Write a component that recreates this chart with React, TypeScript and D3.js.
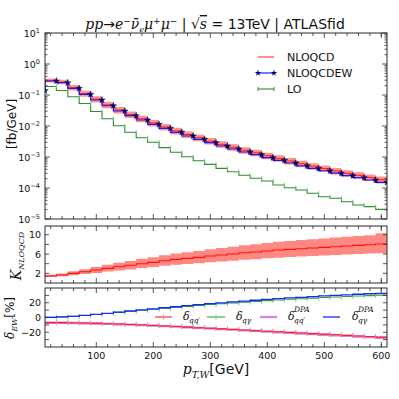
import React from 'react';
import * as d3 from 'd3';

// bin edges in pT,W [GeV]; values are drawn as steps ending at each edge
const binEdges = [10, 30, 50, 70, 90, 110, 130, 150, 170, 190, 210, 230, 250, 270, 290, 310,
  330, 350, 370, 390, 410, 430, 450, 470, 490, 510, 530, 550, 570, 590, 610];

// main panel, dsigma/dpT [fb/GeV]
const nloQcd = [0.14, 0.29, 0.26, 0.172, 0.111, 0.0735, 0.0482, 0.0329, 0.0234, 0.0171, 0.0125,
  0.0093, 0.00697, 0.00532, 0.00418, 0.00326, 0.00256, 0.00206, 0.00166, 0.00137, 0.0011,
  0.000905, 0.000745, 0.000608, 0.000505, 0.000424, 0.000355, 0.000297, 0.000256, 0.000217, 0.000184];
const nloQcdEw = [0.138, 0.283, 0.249, 0.164, 0.105, 0.069, 0.045, 0.0305, 0.0215, 0.0156, 0.01135,
  0.00843, 0.00627, 0.00476, 0.00372, 0.00289, 0.00226, 0.00181, 0.00145, 0.00119, 0.00095,
  0.00078, 0.00064, 0.00052, 0.00043, 0.00036, 0.0003, 0.00025, 0.000215, 0.000181, 0.000153];
const lo = [0.17, 0.187, 0.14, 0.088, 0.053, 0.0294, 0.0172, 0.0102, 0.00627, 0.0042, 0.00298,
  0.002, 0.00142, 0.00102, 0.00076, 0.00058, 0.00043, 0.000336, 0.000257, 0.000206, 0.000168,
  0.000125, 0.000102, 0.000086, 0.0000674, 0.0000525, 0.0000466, 0.0000362, 0.0000283, 0.000025, 0.0000205];

// K factor panel
const kNlo = [1.44, 1.44, 1.65, 2.0, 2.33, 2.68, 3.03, 3.37, 3.66, 4.0, 4.28, 4.61, 4.9, 5.1, 5.31,
  5.58, 5.79, 6.0, 6.27, 6.41, 6.62, 6.82, 6.97, 7.1, 7.24, 7.38, 7.52, 7.65, 7.79, 7.93, 8.07];
const kNloHigh = [1.7, 1.7, 1.98, 2.44, 2.87, 3.32, 3.79, 4.21, 4.58, 5.0, 5.35, 5.76, 6.13, 6.38, 6.64,
  6.98, 7.24, 7.5, 7.84, 8.01, 8.28, 8.53, 8.71, 8.88, 9.05, 9.23, 9.4, 9.56, 9.74, 9.91, 10.28];
const kNloLow = [1.25, 1.25, 1.4, 1.62, 1.84, 2.09, 2.36, 2.6, 2.82, 3.08, 3.3, 3.55, 3.77, 3.93, 4.09,
  4.3, 4.46, 4.62, 4.83, 4.94, 5.1, 5.25, 5.37, 5.47, 5.57, 5.68, 5.79, 5.89, 6.0, 6.11, 6.14];

// EW corrections [%]
const deltaQQ = [-6.8, -6.9, -7.0, -7.2, -7.5, -7.9, -8.4, -8.9, -9.5, -10.1, -10.8, -11.5, -12.2, -13.0,
  -13.8, -14.6, -15.4, -16.2, -17.0, -17.8, -18.6, -19.4, -20.2, -21.0, -21.8, -22.6, -23.4, -24.2,
  -25.0, -25.8, -26.6];
const deltaQQDpa = [-7.0, -7.1, -7.2, -7.4, -7.7, -8.1, -8.6, -9.1, -9.7, -10.3, -11.0, -11.7, -12.4,
  -13.2, -14.0, -14.8, -15.7, -16.5, -17.4, -18.2, -19.1, -19.9, -20.8, -21.6, -22.4, -23.3, -24.1,
  -24.9, -25.8, -26.6, -27.4];
const deltaQA = [0, 0.3, 0.8, 1.6, 2.7, 4.0, 5.4, 6.9, 8.4, 9.8, 11.2, 12.5, 13.8, 15.1, 16.4, 17.6,
  18.7, 19.8, 20.9, 21.9, 22.9, 23.8, 24.7, 25.5, 26.3, 27.1, 27.8, 28.5, 29.1, 29.7, 30.3];
const deltaQADpa = [0, 0.3, 0.8, 1.6, 2.8, 4.2, 5.6, 7.2, 8.8, 10.3, 11.8, 13.2, 14.6, 16.0, 17.4,
  18.7, 19.9, 21.1, 22.3, 23.4, 24.5, 25.5, 26.5, 27.4, 28.3, 29.2, 30.0, 30.8, 31.5, 32.2, 32.8];

const xTicksMinor = [20, 40, 60, 80, 120, 140, 160, 180, 220, 240, 260, 280, 320, 340, 360, 380,
  420, 440, 460, 480, 520, 540, 560, 580, 600];
const xTicksMajor = [100, 200, 300, 400, 500, 600];
const mainDecades = [-5, -4, -3, -2, -1, 0, 1];
const kTicks = [2, 4, 6, 8, 10];
const kTickLabels = [2, 6, 10];
const ewTicks = [-30, -20, -10, 0, 10, 20, 30];
const ewTickLabels = [-20, 0, 20];

const L = 45;
const R = 387;
const SANS = 'DejaVu Sans';
const SERIF = 'DejaVu Serif';
const FRAME = '#2b2b2b';

const x = d3.scaleLinear().domain([10, 610]).range([L, R]);
const yMain = d3.scaleLog().domain([1e-5, 10]).range([219, 33]);
const yK = d3.scaleLinear().domain([0, 11.8]).range([283, 226]);
const yEw = d3.scaleLinear().domain([-40, 40]).range([347, 288]);

type YS = (v: number) => number;

const stepLine = (ys: YS, vals: number[]) =>
  d3.line<number>().x((d, i) => x(binEdges[i])).y(d => ys(d)).curve(d3.curveStepBefore)(vals) || '';

const stepBand = (ys: YS, lowVals: number[], highVals: number[]) =>
  d3.area<number>()
    .x((d, i) => x(binEdges[i]))
    .y0((d, i) => ys(lowVals[i]))
    .y1((d, i) => ys(highVals[i]))
    .curve(d3.curveStepBefore)(lowVals) || '';

const minus = (v: number) => (v < 0 ? '\u2212' + Math.abs(v) : String(v));

function XTicks({ top, bottom }: { top: number; bottom: number }) {
  return (
    <g stroke={FRAME} strokeWidth={0.8}>
      {xTicksMinor.map(t => (
        <g key={'m' + t}>
          <line x1={x(t)} x2={x(t)} y1={bottom} y2={bottom - 3} />
          <line x1={x(t)} x2={x(t)} y1={top} y2={top + 3} />
        </g>
      ))}
      {xTicksMajor.map(t => (
        <g key={'M' + t}>
          <line x1={x(t)} x2={x(t)} y1={bottom} y2={bottom - 5} />
          <line x1={x(t)} x2={x(t)} y1={top} y2={top + 5} />
        </g>
      ))}
    </g>
  );
}

function YTicks({ ys, ticks, len }: { ys: YS; ticks: number[]; len: number }) {
  return (
    <g stroke={FRAME} strokeWidth={0.8}>
      {ticks.map((t, i) => (
        <g key={i}>
          <line x1={L} x2={L + len} y1={ys(t)} y2={ys(t)} />
          <line x1={R} x2={R - len} y1={ys(t)} y2={ys(t)} />
        </g>
      ))}
    </g>
  );
}

function Frame({ top, bottom }: { top: number; bottom: number }) {
  return <rect x={L} y={top} width={R - L} height={bottom - top} fill="none" stroke={FRAME} strokeWidth={1} />;
}

function PointTicks({ ys, vals, color, h }: { ys: YS; vals: number[]; color: string; h: number }) {
  return (
    <g stroke={color} strokeWidth={1}>
      {vals.map((v, i) => (
        <line key={i} x1={x(binEdges[i])} x2={x(binEdges[i])} y1={ys(v) - h} y2={ys(v) + h} />
      ))}
    </g>
  );
}

export default function App() {
  const minorMain: number[] = [];
  mainDecades.slice(0, -1).forEach(e => {
    for (let m = 2; m <= 9; m++) minorMain.push(m * Math.pow(10, e));
  });
  const star = d3.symbol().type(d3.symbolStar).size(13)() || '';

  const mainBandLow = nloQcd.map((v, i) => (v * kNloLow[i]) / kNlo[i]);
  const mainBandHigh = nloQcd.map((v, i) => (v * kNloHigh[i]) / kNlo[i]);

  return (
    <svg width={399} height={399} style={{ position: 'absolute', left: 0, top: 0, background: '#fff' }}>
      <defs>
        <clipPath id="cMain"><rect x={L} y={33} width={R - L} height={186} /></clipPath>
        <clipPath id="cK"><rect x={L} y={226} width={R - L} height={57} /></clipPath>
        <clipPath id="cEw"><rect x={L} y={288} width={R - L} height={59} /></clipPath>
      </defs>

      {/* title */}
      <text x={215} y={29} textAnchor="middle" fontSize={14} fontFamily={SANS} fill="#111">
        <tspan fontFamily={SERIF} fontStyle="italic">pp</tspan>
        <tspan>→</tspan>
        <tspan fontFamily={SERIF} fontStyle="italic">e</tspan>
        <tspan fontSize={9} dy={-5}>−</tspan>
        <tspan fontFamily={SERIF} fontStyle="italic" dy={5}>{'\u03bd\u0304'}</tspan>
        <tspan fontFamily={SERIF} fontStyle="italic" fontSize={8} dy={3}>e</tspan>
        <tspan fontFamily={SERIF} fontStyle="italic" dy={-3}>μ</tspan>
        <tspan fontSize={9} dy={-5}>+</tspan>
        <tspan fontFamily={SERIF} fontStyle="italic" dy={5}>μ</tspan>
        <tspan fontSize={9} dy={-5}>−</tspan>
        <tspan dy={5}>{' | '}</tspan>
        <tspan fontFamily={SERIF}>√</tspan>
        <tspan fontFamily={SERIF} fontStyle="italic" textDecoration="overline">s</tspan>
        <tspan fontFamily={SERIF}>{' = '}</tspan>
        <tspan>13TeV | ATLASfid</tspan>
      </text>

      {/* ===== main panel ===== */}
      <g clipPath="url(#cMain)">
        <path d={stepBand(yMain, mainBandLow, mainBandHigh)} fill="#ff3b2f" fillOpacity={0.55} stroke="none" />
        <path d={stepLine(yMain, nloQcd)} fill="none" stroke="#ff1a1a" strokeWidth={1} />
        <path d={stepLine(yMain, lo)} fill="none" stroke="#2e8b2e" strokeWidth={1.1} />
        <PointTicks ys={yMain} vals={lo} color="#7fbf7f" h={2} />
        <path d={stepLine(yMain, nloQcdEw)} fill="none" stroke="#1a1aff" strokeWidth={1.2} />
        {nloQcdEw.map((v, i) => (
          <path key={i} d={star} transform={`translate(${x(binEdges[i])},${yMain(v)})`}
            fill="#000080" stroke="#000033" strokeWidth={0.4} />
        ))}
      </g>
      <XTicks top={33} bottom={219} />
      <YTicks ys={yMain} ticks={mainDecades.map(e => Math.pow(10, e))} len={5} />
      <YTicks ys={yMain} ticks={minorMain} len={2.5} />
      <Frame top={33} bottom={219} />
      <g fontFamily={SANS} fontSize={9.5} fill="#111" textAnchor="end">
        {mainDecades.map(e => (
          <text key={e} x={40} y={yMain(Math.pow(10, e)) + 4}>
            10<tspan fontSize={6.5} dy={-4}>{minus(e)}</tspan>
          </text>
        ))}
      </g>
      <text transform="translate(16,124) rotate(-90)" textAnchor="middle" fontFamily={SANS} fontSize={12} fill="#111">
        [fb/GeV]
      </text>

      {/* main legend */}
      <g fontFamily={SANS} fontSize={11} fill="#111">
        <line x1={258} x2={274} y1={57} y2={57} stroke="#ff1a1a" strokeWidth={1} />
        <text x={287} y={61}>NLOQCD</text>
        <line x1={258} x2={274} y1={73} y2={73} stroke="#1a1aff" strokeWidth={1.2} />
        <path d={star} transform="translate(258,73)" fill="#000080" />
        <path d={star} transform="translate(274,73)" fill="#000080" />
        <text x={287} y={77}>NLOQCDEW</text>
        <line x1={258} x2={274} y1={89} y2={89} stroke="#2e8b2e" strokeWidth={1.1} />
        <line x1={258} x2={258} y1={87} y2={91} stroke="#2e8b2e" />
        <line x1={274} x2={274} y1={87} y2={91} stroke="#2e8b2e" />
        <text x={287} y={93}>LO</text>
      </g>

      {/* ===== K factor panel ===== */}
      <g clipPath="url(#cK)">
        <path d={stepBand(yK, kNloLow, kNloHigh)} fill="#ff3b2f" fillOpacity={0.6} stroke="none" />
        <path d={stepLine(yK, kNlo)} fill="none" stroke="#ff1010" strokeWidth={1.1} />
      </g>
      <XTicks top={226} bottom={283} />
      <YTicks ys={yK} ticks={kTicks} len={4} />
      <Frame top={226} bottom={283} />
      <g fontFamily={SANS} fontSize={9.5} fill="#111" textAnchor="end">
        {kTickLabels.map(t => (
          <text key={t} x={41} y={yK(t) + 3.5}>{t}</text>
        ))}
      </g>
      <text transform="translate(21,256) rotate(-90)" textAnchor="middle" fontFamily={SERIF} fontStyle="italic" fill="#111" fontSize={14}>
        K<tspan fontSize={8} dy={3}>NLOQCD</tspan>
      </text>

      {/* ===== EW panel ===== */}
      <g clipPath="url(#cEw)">
        <path d={stepLine(yEw, deltaQQDpa)} fill="none" stroke="#b030d0" strokeOpacity={0.6} strokeWidth={2.4} />
        <path d={stepLine(yEw, deltaQQ)} fill="none" stroke="#ff2020" strokeWidth={1.1} />
        <PointTicks ys={yEw} vals={deltaQQ} color="#ff8080" h={2.5} />
        <path d={stepLine(yEw, deltaQA)} fill="none" stroke="#2ca02c" strokeWidth={1.1} />
        <PointTicks ys={yEw} vals={deltaQA} color="#80cc80" h={2.5} />
        <path d={stepLine(yEw, deltaQADpa)} fill="none" stroke="#1a2aff" strokeWidth={1.3} />
      </g>
      <XTicks top={288} bottom={347} />
      <YTicks ys={yEw} ticks={ewTicks} len={4} />
      <Frame top={288} bottom={347} />
      <g fontFamily={SANS} fontSize={9.5} fill="#111" textAnchor="end">
        {ewTickLabels.map(t => (
          <text key={t} x={41} y={yEw(t) + 3.5}>{minus(t)}</text>
        ))}
      </g>
      <g fontFamily={SANS} fontSize={9.5} fill="#111" textAnchor="middle">
        {xTicksMajor.map(t => (
          <text key={t} x={x(t)} y={358.5}>{t}</text>
        ))}
      </g>
      <text transform="translate(14,318) rotate(-90)" textAnchor="middle" fontFamily={SERIF} fontSize={12} fill="#111">
        <tspan fontStyle="italic">δ</tspan>
        <tspan fontStyle="italic" fontSize={8} dy={3}>EW</tspan>
        <tspan fontFamily={SANS} dy={-3}>[%]</tspan>
      </text>

      {/* EW legend */}
      <g fontFamily={SERIF} fontStyle="italic" fill="#111">
        <line x1={155} x2={172} y1={317} y2={317} stroke="#ff2020" strokeWidth={1.1} />
        <line x1={163.5} x2={163.5} y1={314.5} y2={319.5} stroke="#ff8080" />
        <text x={183} y={320} fontSize={11}>δ</text>
        <text x={189} y={323} fontSize={7.5}>qq′</text>

        <line x1={207} x2={225} y1={317} y2={317} stroke="#2ca02c" strokeWidth={1.1} />
        <line x1={216} x2={216} y1={314.5} y2={319.5} stroke="#80cc80" />
        <text x={236} y={320} fontSize={11}>δ</text>
        <text x={242} y={323} fontSize={7.5}>qγ</text>

        <line x1={260} x2={277} y1={317} y2={317} stroke="#b030d0" strokeOpacity={0.6} strokeWidth={2.2} />
        <text x={288} y={320} fontSize={11}>δ</text>
        <text x={294} y={323} fontSize={7.5}>qq′</text>
        <text x={294} y={312} fontSize={7.5}>DPA</text>

        <line x1={323} x2={340} y1={317} y2={317} stroke="#1a2aff" strokeWidth={1.3} />
        <text x={352} y={320} fontSize={11}>δ</text>
        <text x={358} y={323} fontSize={7.5}>qγ</text>
        <text x={358} y={312} fontSize={7.5}>DPA</text>
      </g>

      {/* x axis label */}
      <text x={216} y={374} textAnchor="middle" fontFamily={SANS} fontSize={14} fill="#111">
        <tspan fontFamily={SERIF} fontStyle="italic">p</tspan>
        <tspan fontFamily={SERIF} fontStyle="italic" fontSize={9.5} dy={3.5}>T,W</tspan>
        <tspan dy={-3.5}>[GeV]</tspan>
      </text>
    </svg>
  );
}
